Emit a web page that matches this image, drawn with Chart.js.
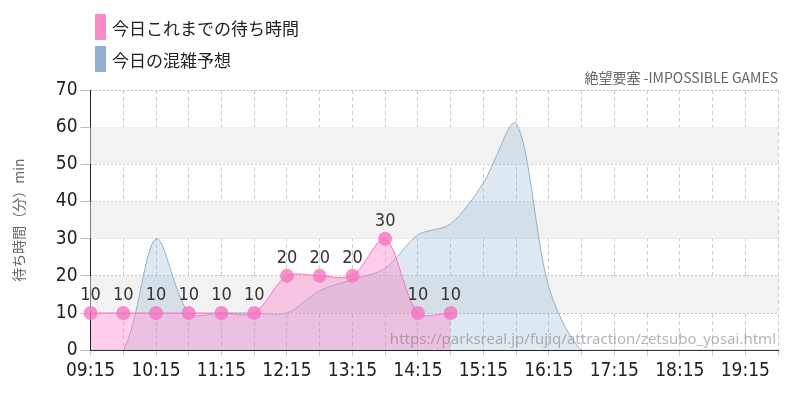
<!DOCTYPE html>
<html><head><meta charset="utf-8">
<script src="https://cdn.jsdelivr.net/npm/chart.js@4"></script>
<style>
body{margin:0;width:800px;height:400px;overflow:hidden;background:#fff;font-family:"Noto Sans CJK JP";}
#wrap{position:relative;width:800px;height:400px;}
.lg{position:absolute;left:95px;font-size:17px;color:#222;display:flex;align-items:center;}
.lg span.b{display:inline-block;width:11px;height:26px;margin-right:6px;}
#ttl{position:absolute;right:22px;top:67px;font-size:14px;color:#666;}
</style></head><body>
<div id="wrap">
<canvas id="c" width="800" height="400"></canvas>
<div class="lg" style="top:14px"><span class="b" style="background:#ff88c8"></span>今日これまでの待ち時間</div>
<div class="lg" style="top:46px"><span class="b" style="background:#90b2d0"></span>今日の混雑予想</div>
<div id="ttl">絶望要塞 -IMPOSSIBLE GAMES</div>
</div>
<script>
const labels=["09:15","09:45","10:15","10:45","11:15","11:45","12:15","12:45","13:15","13:45","14:15","14:45","15:15","15:45","16:15","16:45","17:15","17:45","18:15","18:45","19:15","19:45"];
const actual=[10,10,10,10,10,10,20,20,20,30,10,10];
const forecast=[0,0,30,10,10,10,10,16,19,22,31,34,45,61,17,0,0,0,0,0,0,0];
const watermark="https://parksreal.jp/fujiq/attraction/zetsubo_yosai.html";
const numFont="'DejaVu Sans Condensed','Liberation Sans Narrow',sans-serif";
const bands={id:'bands',beforeDatasetsDraw(ch){const {ctx,chartArea:a,scales:{y}}=ch;ctx.save();ctx.fillStyle='#f2f2f2';
 for(const [lo,hi] of [[10,20],[30,40],[50,60]]){const t=y.getPixelForValue(hi),b=y.getPixelForValue(lo);ctx.fillRect(a.left,t,a.right-a.left,b-t);}
 ctx.restore();}};
const extras={id:'extras',afterDatasetsDraw(ch){const {ctx,chartArea:a}=ch;ctx.save();
 ctx.font="15px 'Noto Sans'";ctx.fillStyle='rgba(120,120,120,0.55)';ctx.textAlign='right';ctx.fillText(watermark,a.right-2,a.bottom-6);
 const m=ch.getDatasetMeta(0);ctx.font="18px "+numFont;ctx.fillStyle='#333';ctx.textAlign='center';
 m.data.forEach((p,i)=>{ctx.fillText(String(actual[i]),p.x,p.y-13);});
 ctx.restore();}};
new Chart(document.getElementById('c'),{type:'line',
 data:{labels,datasets:[
  {data:actual,borderColor:'#ff70c0',borderWidth:1,backgroundColor:'rgba(255,130,200,0.4)',fill:'origin',tension:0.3,pointRadius:7,pointBackgroundColor:'rgba(245,110,190,0.75)',pointBorderWidth:0},
  {data:forecast,borderColor:'#8fb0cc',borderWidth:1,backgroundColor:'rgba(140,175,205,0.28)',fill:'origin',tension:0.3,pointRadius:0}
 ]},
 options:{responsive:false,animation:false,events:[],
  layout:{padding:{top:90,right:22,left:6,bottom:15}},
  plugins:{legend:{display:false},tooltip:{enabled:false}},
  scales:{
   x:{offset:false,grid:{color:'#ccc',tickLength:6},border:{color:'#222',width:1,dash:[4,3]},
      ticks:{autoSkip:false,maxRotation:0,color:'#222',font:{family:numFont,size:19},callback:(v,i)=>i%2===0?labels[i]:''}},
   y:{min:0,max:70,grid:{color:'#bbb',tickLength:10},border:{color:'#222',width:1,dash:[2,2]},
      ticks:{stepSize:10,color:'#222',font:{family:numFont,size:19}},
      title:{display:true,text:'待ち時間（分）min',color:'#666',font:{family:'Noto Sans CJK JP',size:14},padding:{bottom:26}}}
  }},
 plugins:[bands,extras]});
</script></body></html>
